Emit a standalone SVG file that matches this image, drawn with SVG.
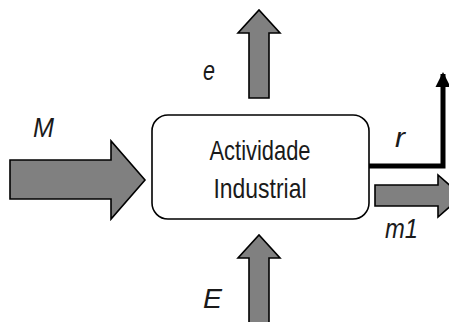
<svg xmlns="http://www.w3.org/2000/svg" width="449" height="322" viewBox="0 0 449 322">
  <style>
    .flow { fill: #808080; stroke: #000; stroke-width: 1.6; stroke-linejoin: miter; }
    .box { fill: #fff; stroke: #000; stroke-width: 1.6; }
    .title { font-family: "Liberation Sans", Arial, sans-serif; font-size: 28px; fill: #1a1a1a; }
    .lbl { font-family: "Liberation Sans", Arial, sans-serif; font-size: 27px; font-style: italic; fill: #1a1a1a; }
  </style>

  <!-- process box -->
  <g id="activity">
    <rect class="box" x="152" y="115" width="217" height="104" rx="16" ry="16"/>
    <text class="title" x="260" y="160" text-anchor="middle" textLength="101" lengthAdjust="spacingAndGlyphs">Actividade</text>
    <text class="title" x="260" y="198" text-anchor="middle" textLength="93" lengthAdjust="spacingAndGlyphs">Industrial</text>
  </g>

  <g id="connectors">
    <!-- M: material input -->
    <g id="flow-M">
      <path class="flow" d="M10,160 L111,160 L111,141 L145,180 L111,219 L111,199 L10,199 Z"/>
      <text class="lbl" x="33" y="137" textLength="21" lengthAdjust="spacingAndGlyphs">M</text>
    </g>
    <!-- e: energy output -->
    <g id="flow-e">
      <path class="flow" d="M249,98 L249,33 L238,33 L259,10 L280,33 L269,33 L269,98 Z"/>
      <text class="lbl" x="203" y="80" textLength="12" lengthAdjust="spacingAndGlyphs">e</text>
    </g>
    <!-- E: energy input -->
    <g id="flow-E">
      <path class="flow" d="M249,325 L249,258 L238,258 L259,235 L280,258 L269,258 L269,325 Z"/>
      <text class="lbl" x="203" y="308" textLength="19" lengthAdjust="spacingAndGlyphs">E</text>
    </g>
    <!-- r: residue output -->
    <g id="flow-r">
      <path d="M369,166 L443,166 L443,74" fill="none" stroke="#000" stroke-width="5"/>
      <path d="M435.5,87 L443,72 L450.5,87 Z" fill="#000"/>
      <text class="lbl" x="395" y="147" textLength="10" lengthAdjust="spacingAndGlyphs">r</text>
    </g>
    <!-- m1: material output -->
    <g id="flow-m1">
      <path class="flow" d="M375,185 L438,185 L438,175 L462,196 L438,217 L438,206 L375,206 Z"/>
      <text class="lbl" x="385" y="238" textLength="33" lengthAdjust="spacingAndGlyphs">m1</text>
    </g>
  </g>
</svg>
